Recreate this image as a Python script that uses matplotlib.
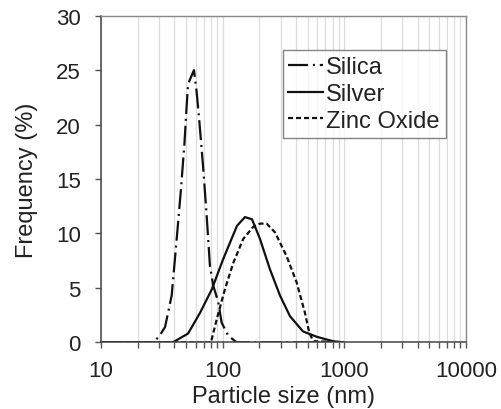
import matplotlib
matplotlib.use("Agg")
import matplotlib.pyplot as plt
from matplotlib.ticker import LogLocator, NullFormatter, FixedLocator

plt.rcParams['font.family'] = ['Liberation Sans', 'DejaVu Sans']

# Particle size (nm) and frequency (%)
silica_x = [10, 26.9, 30.1, 33.6, 38.1, 41.9, 45.2, 48.4, 51.6, 53.2, 58.1, 61.1,
            64.2, 69.3, 73.9, 78.6, 83.7, 92.0, 98.1, 111.2, 130.3, 1000]
silica_y = [0, 0, 0.55, 1.4, 4.3, 9.5, 13.8, 18.1, 23.3, 24.0, 25.0, 23.0,
            20.4, 15.9, 11.6, 7.0, 5.2, 3.7, 1.8, 0.6, 0, 0]

silver_x = [10, 39.0, 51.9, 58.5, 65.1, 81.7, 100.6, 131.1, 152.4, 174.2, 202.5,
            244.7, 295.8, 357.4, 457, 595.7, 806, 973]
silver_y = [0, 0, 0.8, 1.8, 2.7, 4.9, 7.6, 10.7, 11.5, 11.3, 9.5,
            6.7, 4.3, 2.4, 1.0, 0.5, 0.1, 0]

zinc_x = [10, 80.1, 89.3, 104.5, 122.3, 147.7, 178.3, 202.5, 229.9, 269,
          335.7, 405.5, 474.5, 514.7, 555.3, 1000]
zinc_y = [0, 0, 2.1, 4.9, 7.3, 9.5, 10.6, 10.9, 10.9, 10.1,
          7.9, 5.5, 2.7, 0.9, 0.1, 0]

y_ticks = [0, 5, 10, 15, 20, 25, 30]
x_ticks = [10, 100, 1000, 10000]
x_tick_labels = ['10', '100', '1000', '10000']

fig = plt.figure(figsize=(5.02, 4.10), dpi=100)
ax = fig.add_axes([0.2012, 0.1627, 0.9283 - 0.2012, 0.9593 - 0.1627])

lw = 1.6
ax.plot(silica_x, silica_y, color='#111111', lw=lw, dashes=(9, 2.2, 0.9, 2.2), label='Silica')
ax.plot(silver_x, silver_y, color='#111111', lw=lw, linestyle='-', label='Silver')
ax.plot(zinc_x, zinc_y, color='#111111', lw=lw, dashes=(2.3, 1.3), label='Zinc Oxide')

ax.set_xscale('log')
ax.set_xlim(10, 10000)
ax.set_ylim(0, 30)

ax.xaxis.set_major_locator(FixedLocator(x_ticks))
ax.set_xticklabels(x_tick_labels)
ax.xaxis.set_minor_locator(LogLocator(base=10, subs=range(2, 10)))
ax.xaxis.set_minor_formatter(NullFormatter())
ax.set_yticks(y_ticks)

ax.grid(True, which='both', axis='x', color='#dcdcdc', lw=0.9)
ax.set_axisbelow(True)

ax.tick_params(axis='both', which='both', direction='out', length=4.5, width=1,
               color='#555555', labelsize=16, labelcolor='#222222')
ax.tick_params(axis='x', pad=8)
ax.tick_params(axis='y', pad=10)
for side in ['left', 'bottom']:
    ax.spines[side].set_color('#444444')
    ax.spines[side].set_linewidth(1.1)
for side in ['top', 'right']:
    ax.spines[side].set_color('#888888')
    ax.spines[side].set_linewidth(1.0)

ax.set_xlabel('Particle size (nm)', fontsize=17, color='#222222', labelpad=3)
ax.set_ylabel('Frequency (%)', fontsize=17, color='#222222', labelpad=13)

leg = ax.legend(loc='upper left', bbox_to_anchor=(0.4975, 0.894), fontsize=17,
                frameon=True, fancybox=False, edgecolor='#666666',
                handlelength=1.45, handletextpad=0.15, borderpad=0.25,
                labelspacing=0.2, borderaxespad=0)
leg.get_frame().set_linewidth(1.0)
for t in leg.get_texts():
    t.set_color('#222222')

fig.savefig('out.png', dpi=100)
